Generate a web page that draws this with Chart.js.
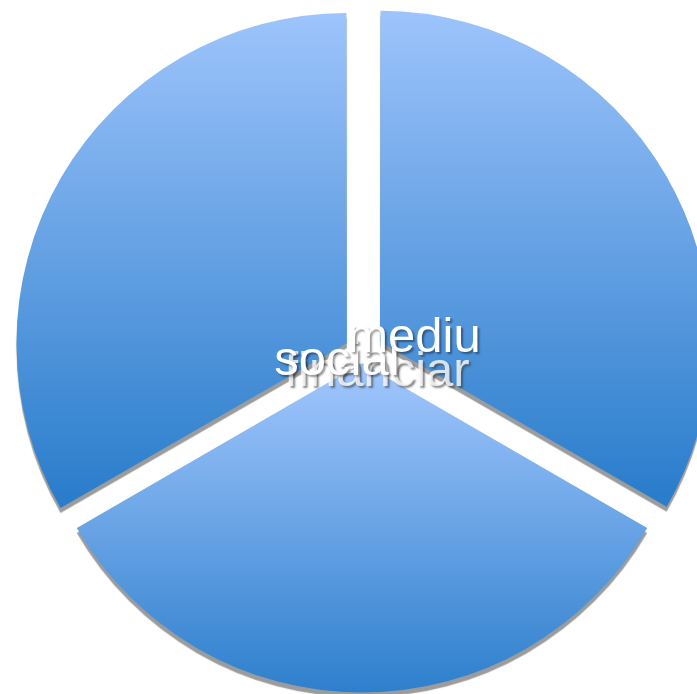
<!DOCTYPE html>
<html>
<head>
<meta charset="utf-8">
<script src="https://cdn.jsdelivr.net/npm/chart.js@4/dist/chart.umd.min.js"></script>
<style>
  html, body { margin: 0; padding: 0; background: #ffffff; }
  #wrap { width: 697px; height: 694px; position: relative; }
</style>
</head>
<body>
<div id="wrap"><canvas id="c" width="697" height="694"></canvas></div>
<script>
// Data
const categories = ['mediu', 'financiar', 'social'];
const values = [1, 1, 1];

// Styles
const gradTop = '#9fc5fc';
const gradBottom = '#2a7dcb';
const labelFont = '49px "Liberation Sans", Arial, sans-serif';
// label anchor shifts (px) relative to the pie centre, per category
const labelShift = { mediu: [52, 0], financiar: [15, 34], social: [-25, 23] };
const sliceOffsets = [83, 44, 70]; // Chart.js v4 translates arcs by offset/4

function sliceGradient(ctx) {
  const chart = ctx.chart;
  const el = ctx.element;
  if (!el || el.x === undefined || el.outerRadius === undefined) return gradBottom;
  const { x, y, startAngle, endAngle, outerRadius } = el;
  const off = sliceOffsets[ctx.dataIndex] / 4;
  const mid = (startAngle + endAngle) / 2;
  const cx = x + Math.cos(mid) * off;
  const cy = y + Math.sin(mid) * off;
  let minY = cy, maxY = cy;
  const pts = [startAngle, endAngle];
  for (let a = -Math.PI * 2.5; a <= Math.PI * 2.5; a += Math.PI / 2) {
    if (a > startAngle && a < endAngle) pts.push(a);
  }
  pts.forEach(a => {
    const py = cy + Math.sin(a) * outerRadius;
    minY = Math.min(minY, py); maxY = Math.max(maxY, py);
  });
  const g = chart.ctx.createLinearGradient(0, minY, 0, maxY);
  g.addColorStop(0, gradTop);
  g.addColorStop(1, gradBottom);
  return g;
}

const shadowPlugin = {
  id: 'sliceShadow',
  beforeDatasetsDraw(chart) {
    const c = chart.ctx;
    c.save();
    c.shadowColor = 'rgba(150,150,150,0.95)';
    c.shadowBlur = 1;
    c.shadowOffsetX = 0;
    c.shadowOffsetY = 5;
  },
  afterDatasetsDraw(chart) {
    chart.ctx.restore();
  }
};

const labelPlugin = {
  id: 'centerLabels',
  afterDraw(chart) {
    const meta = chart.getDatasetMeta(0);
    if (!meta.data.length) return;
    const cx = meta.data[0].x, cy = meta.data[0].y;
    const c = chart.ctx;
    c.save();
    c.font = labelFont;
    c.textAlign = 'center';
    c.textBaseline = 'alphabetic';
    const order = ['financiar', 'social', 'mediu'];
    order.forEach(name => {
      const s = labelShift[name];
      c.shadowColor = name === 'financiar' ? 'rgba(60,60,60,0.75)' : 'rgba(0,0,0,0.4)';
      c.shadowBlur = 2;
      c.shadowOffsetX = 2;
      c.shadowOffsetY = 2;
      c.fillStyle = name === 'financiar' ? 'rgba(255,255,255,0.8)' : '#ffffff';
      c.fillText(name, cx + s[0], cy + s[1]);
    });
    c.restore();
  }
};

const chart = new Chart(document.getElementById('c'), {
  type: 'pie',
  data: {
    labels: categories,
    datasets: [{
      data: values,
      backgroundColor: sliceGradient,
      borderWidth: 0,
      offset: sliceOffsets,
      hoverOffset: 0
    }]
  },
  options: {
    responsive: false,
    animation: false,
    radius: 328,
    layout: { padding: { left: 27, right: 0, top: 10, bottom: 0 } },
    events: [],
    plugins: {
      legend: { display: false },
      tooltip: { enabled: false }
    }
  },
  plugins: [shadowPlugin, labelPlugin]
});
chart.update();
</script>
</body>
</html>
